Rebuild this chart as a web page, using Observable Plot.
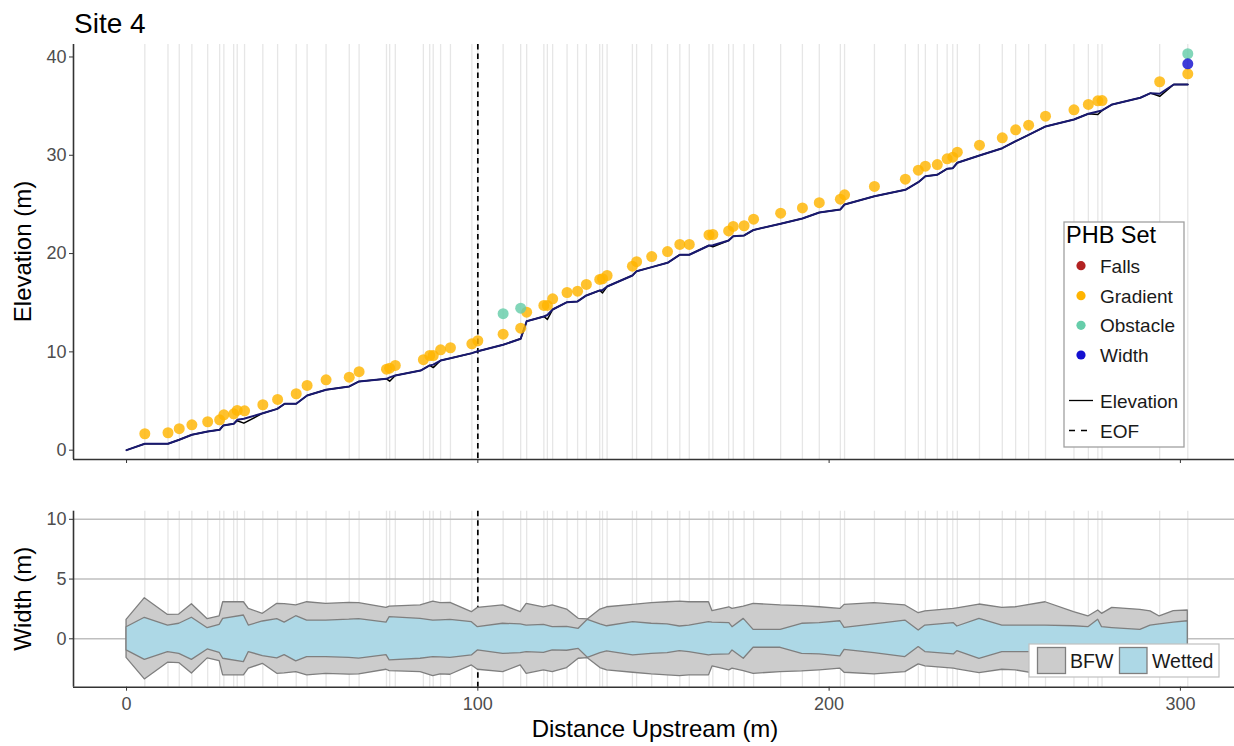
<!DOCTYPE html>
<html><head><meta charset="utf-8">
<script src="https://cdn.jsdelivr.net/npm/d3@7"></script>
<script src="https://cdn.jsdelivr.net/npm/@observablehq/plot@0.6"></script>
<style>
body{margin:0;background:#fff;overflow:hidden;}
#wrap{position:relative;width:1234px;height:746px;font-family:"Liberation Sans",Arial,sans-serif;}
#wrap svg{position:absolute;left:0;}
</style></head><body><div id="wrap"></div>
<script>
// ---------- data ----------
const titleText = "Site 4";
const eofDist = 100;
const xTicks = [0, 100, 200, 300];
const elevTicks = [0, 10, 20, 30, 40];
const widthTicks = [0, 5, 10];

const elevDist = [0, 5.2, 11.8, 15.0, 18.6, 23.1, 26.5, 27.5, 30.5, 31.5, 33.4, 38.8, 42.9, 45.0, 48.3, 51.4, 56.8, 63.4, 66.2, 74.0, 74.9, 76.5, 83.7, 86.3, 87.3, 89.4, 92.2, 98.3, 100.0, 107.2, 112.2, 113.9, 118.8, 119.8, 121.3, 125.4, 128.4, 130.9, 134.7, 135.5, 136.8, 144.0, 145.2, 149.5, 154.0, 157.5, 160.2, 165.8, 166.9, 171.4, 172.7, 175.8, 178.5, 186.2, 192.4, 197.2, 203.2, 204.4, 212.9, 221.7, 225.4, 227.4, 230.8, 233.6, 235.2, 236.5, 242.8, 249.3, 253.1, 256.8, 261.6, 269.7, 273.8, 276.5, 277.7, 280.6, 288.6, 291.5, 294.1, 298.1, 302.1];
const elevNavy = [0, 0.65, 0.65, 1.06, 1.57, 1.9, 2.07, 2.5, 2.68, 3.09, 3.2, 3.76, 4.2, 4.72, 4.72, 5.56, 6.14, 6.48, 6.99, 7.26, 7.4, 7.6, 8.1, 8.62, 8.7, 9.12, 9.36, 9.87, 10.07, 10.72, 11.33, 13.12, 13.6, 13.75, 14.31, 15.06, 15.13, 15.74, 16.25, 16.3, 16.65, 17.77, 18.21, 18.62, 19.06, 19.88, 19.88, 20.82, 20.85, 21.33, 21.77, 21.84, 22.4, 23.03, 23.57, 24.18, 24.49, 24.99, 25.84, 26.49, 27.26, 27.87, 28.02, 28.63, 28.69, 29.24, 29.98, 30.72, 31.43, 32.08, 32.93, 33.64, 34.22, 34.46, 34.56, 35.17, 35.85, 36.32, 36.26, 37.2, 37.2];
const elevRaw = [0, 0.65, 0.65, 1.06, 1.57, 1.9, 2.07, 2.5, 2.68, 3.0, 2.75, 3.76, 4.2, 4.72, 4.72, 5.56, 6.14, 6.48, 6.99, 7.26, 7.02, 7.6, 8.1, 8.62, 8.4, 9.12, 9.36, 9.87, 10.07, 10.72, 11.33, 13.12, 13.6, 13.3, 14.31, 15.06, 15.13, 15.74, 16.25, 16.0, 16.65, 17.77, 18.21, 18.62, 19.06, 19.88, 19.88, 20.82, 20.7, 21.33, 21.77, 21.84, 22.4, 23.03, 23.57, 24.18, 24.49, 24.99, 25.84, 26.49, 27.26, 27.87, 28.02, 28.63, 28.69, 29.24, 29.98, 30.72, 31.43, 32.08, 32.93, 33.64, 34.22, 34.15, 34.56, 35.17, 35.85, 36.32, 36.0, 37.2, 37.2];

const phbDist = [5.2, 11.8, 15.0, 18.6, 23.1, 26.5, 27.7, 30.5, 31.5, 33.6, 38.8, 43.0, 48.3, 51.4, 56.8, 63.4, 66.2, 74.0, 74.9, 76.5, 84.5, 86.3, 87.3, 89.4, 92.2, 98.3, 100.0, 107.2, 112.2, 113.9, 118.8, 119.8, 121.3, 125.4, 128.4, 130.9, 134.7, 135.5, 136.8, 144.0, 145.2, 149.5, 154.0, 157.5, 160.2, 165.8, 166.9, 171.4, 172.7, 175.8, 178.5, 186.2, 192.4, 197.2, 203.2, 204.4, 212.9, 221.7, 225.4, 227.4, 230.8, 233.6, 235.2, 236.5, 242.8, 249.3, 253.1, 256.8, 261.6, 269.7, 273.8, 276.5, 277.7, 294.1, 302.1, 107.2, 112.2, 302.1, 302.1];
const phbElev = [1.67, 1.77, 2.18, 2.58, 2.89, 3.09, 3.6, 3.7, 4.04, 4.0, 4.62, 5.16, 5.74, 6.58, 7.16, 7.43, 7.98, 8.24, 8.34, 8.62, 9.2, 9.63, 9.63, 10.21, 10.42, 10.82, 11.13, 11.8, 12.41, 14.04, 14.72, 14.72, 15.4, 16.04, 16.17, 16.86, 17.37, 17.44, 17.77, 18.72, 19.17, 19.7, 20.2, 20.93, 20.93, 21.9, 21.94, 22.3, 22.76, 22.83, 23.5, 24.11, 24.64, 25.18, 25.53, 25.98, 26.83, 27.57, 28.48, 28.89, 29.06, 29.64, 29.81, 30.32, 31.03, 31.78, 32.59, 33.06, 33.98, 34.63, 35.17, 35.54, 35.57, 37.48, 38.29, 13.88, 14.45, 40.33, 39.31];
const phbSet = [...Array(75).fill("Gradient"), "Obstacle", "Obstacle", "Obstacle", "Width"];

const setNames = ["Falls", "Gradient", "Obstacle", "Width"];
const setColors = ["#b22222", "#ffb400", "#66cdaa", "#1410d0"];

const widthDist = [0, 5.2, 11.8, 15.0, 18.6, 23.1, 26.5, 27.5, 33.4, 34.8, 38.8, 42.9, 45.0, 48.3, 51.4, 56.8, 63.4, 66.2, 74.0, 74.9, 83.7, 87.3, 89.4, 92.2, 98.3, 100.0, 107.2, 112.2, 113.9, 118.8, 121.3, 125.4, 128.7, 131.3, 134.9, 136.8, 144.2, 149.5, 154.0, 157.5, 160.2, 165.8, 166.8, 171.6, 172.5, 175.7, 178.5, 186.2, 192.3, 197.3, 203.2, 204.4, 212.9, 221.7, 225.5, 227.4, 235.5, 236.5, 242.8, 249.3, 253.1, 261.6, 269.7, 273.8, 276.6, 277.7, 280.6, 288.6, 291.5, 294.1, 298.1, 302.1];
const bfwWidth = [3.18, 6.8, 4.0, 4.06, 5.8, 3.28, 3.74, 6.12, 6.12, 5.0, 4.18, 5.86, 5.8, 5.58, 6.12, 5.86, 6.0, 5.96, 5.18, 5.4, 5.58, 6.24, 5.96, 6.02, 4.46, 5.18, 5.58, 4.46, 5.86, 5.28, 5.58, 4.9, 3.34, 3.24, 4.9, 5.28, 5.68, 5.96, 6.12, 6.24, 6.12, 6.12, 4.62, 5.28, 5.0, 5.4, 5.86, 5.58, 5.46, 5.28, 5.0, 5.68, 5.96, 5.58, 4.28, 4.6, 5.0, 5.1, 5.74, 5.18, 5.28, 6.12, 4.46, 3.74, 4.74, 4.18, 5.18, 4.86, 4.6, 3.74, 4.62, 4.74];
const wettedWidth = [1.94, 3.52, 2.22, 2.52, 3.52, 1.78, 2.34, 3.34, 3.9, 2.22, 2.9, 3.28, 2.72, 3.78, 3.06, 3.06, 3.2, 3.3, 2.72, 3.62, 3.34, 3.06, 3.1, 3.18, 2.78, 1.94, 2.52, 2.4, 2.22, 2.34, 1.94, 2.0, 1.68, 3.18, 2.4, 2.1, 2.78, 2.52, 2.4, 2.06, 2.22, 2.78, 2.7, 2.62, 1.94, 3.34, 1.5, 1.5, 2.52, 2.62, 2.94, 1.84, 2.4, 3.06, 1.38, 2.22, 2.62, 2.06, 3.34, 2.22, 2.22, 2.22, 2.1, 1.94, 3.18, 1.94, 1.8, 1.5, 2.22, 2.4, 2.7, 2.94];

// ---------- build tables ----------
const elevRows = elevDist.map((d, i) => ({d, navy: elevNavy[i], raw: elevRaw[i]}));
const phbRows = phbDist.map((d, i) => ({d, e: phbElev[i], set: phbSet[i]}));
const widthRows = widthDist.map((d, i) => ({d, bfw: bfwWidth[i], wet: wettedWidth[i]}));
const vlines = Array.from(new Set(phbDist));

const FONT = '"Liberation Sans", Arial, sans-serif';
const xDomain = [-15.1, 315.4];
const yTop = [-0.95, 41.27];
const yBot = [-4.05, 10.68];
const baseStyle = {background: "transparent", fontFamily: FONT, fontSize: "18px", overflow: "visible"};
const vStroke = "#e6e6e6";
const axisCol = "#333333";

const topPlot = Plot.plot({
  width: 1234, height: 470,
  marginTop: 44, marginBottom: 11, marginLeft: 73, marginRight: 0,
  x: {domain: xDomain}, y: {domain: yTop},
  color: {domain: setNames, range: setColors},
  style: baseStyle,
  marks: [
    Plot.ruleX(vlines, {stroke: vStroke, strokeWidth: 1.3}),
    Plot.ruleX([eofDist], {stroke: "black", strokeWidth: 1.7, strokeDasharray: "5.5,4"}),
    Plot.line(elevRows, {x: "d", y: "raw", stroke: "black", strokeWidth: 1.5}),
    Plot.line(elevRows, {x: "d", y: "navy", stroke: "#191970", strokeWidth: 2}),
    Plot.dot(phbRows, {x: "d", y: "e", fill: "set", r: 5.5, fillOpacity: 0.82, stroke: null}),
    Plot.ruleX([xDomain[0]], {stroke: axisCol, strokeWidth: 1.6}),
    Plot.ruleY([yTop[0]], {stroke: axisCol, strokeWidth: 1.6}),
    Plot.axisY(elevTicks, {tickSize: 4, tickPadding: 3, fill: "#4d4d4d", stroke: axisCol, fontSize: 18, label: null}),
    Plot.axisX(xTicks, {tickSize: 4, tickFormat: () => "", stroke: axisCol, label: null})
  ]
});

const botPlot = Plot.plot({
  width: 1234, height: 256,
  marginTop: 20.7, marginBottom: 59.3, marginLeft: 73, marginRight: 0,
  x: {domain: xDomain}, y: {domain: yBot},
  style: baseStyle,
  marks: [
    Plot.ruleX(vlines, {stroke: vStroke, strokeWidth: 1.3}),
    Plot.ruleY(widthTicks, {stroke: "#bfbfbf", strokeWidth: 1.6}),
    Plot.ruleX([eofDist], {stroke: "black", strokeWidth: 1.7, strokeDasharray: "5.5,4"}),
    Plot.areaY(widthRows, {x: "d", y1: r => -r.bfw / 2, y2: r => r.bfw / 2, fill: "#cccccc", stroke: "#7f7f7f", strokeWidth: 1.3}),
    Plot.areaY(widthRows, {x: "d", y1: r => -r.wet / 2, y2: r => r.wet / 2, fill: "#add8e6", stroke: "#7f7f7f", strokeWidth: 1.3}),
    Plot.ruleX([xDomain[0]], {stroke: axisCol, strokeWidth: 1.6}),
    Plot.ruleY([yBot[0]], {stroke: axisCol, strokeWidth: 1.6}),
    Plot.axisY(widthTicks, {tickSize: 4, tickPadding: 3, fill: "#4d4d4d", stroke: axisCol, fontSize: 18, label: null}),
    Plot.axisX(xTicks, {tickSize: 4, tickPadding: 6, fill: "#4d4d4d", stroke: axisCol, fontSize: 18, label: null})
  ]
});

const wrap = document.getElementById("wrap");
topPlot.style.top = "0px";
botPlot.style.top = "490px";
wrap.appendChild(topPlot);
wrap.appendChild(botPlot);

// ---------- overlay: title, axis titles, legends ----------
const ov = d3.create("svg").attr("width", 1234).attr("height", 746)
  .style("top", "0px").style("pointer-events", "none")
  .attr("font-family", FONT);

ov.append("text").attr("x", 74).attr("y", 32.5).attr("font-size", 28).attr("fill", "black").text(titleText);

ov.append("text").attr("transform", "translate(31,251.5) rotate(-90)").attr("text-anchor", "middle")
  .attr("font-size", 24).attr("fill", "black").text("Elevation (m)");
ov.append("text").attr("transform", "translate(31,598.7) rotate(-90)").attr("text-anchor", "middle")
  .attr("font-size", 24).attr("fill", "black").text("Width (m)");
ov.append("text").attr("x", 655).attr("y", 737).attr("text-anchor", "middle")
  .attr("font-size", 24).attr("fill", "black").text("Distance Upstream (m)");

// PHB legend
const lg = ov.append("g");
lg.append("rect").attr("x", 1064).attr("y", 222).attr("width", 120).attr("height", 225)
  .attr("fill", "white").attr("stroke", "#a0a0a0").attr("stroke-width", 1.3);
lg.append("text").attr("x", 1066).attr("y", 242.5).attr("font-size", 23.5).attr("fill", "black").text("PHB Set");
const itemY = [265.7, 295.7, 325.3, 355];
setNames.forEach((n, i) => {
  lg.append("circle").attr("cx", 1081).attr("cy", itemY[i]).attr("r", 4.6).attr("fill", setColors[i]);
  lg.append("text").attr("x", 1100).attr("y", itemY[i] + 6.8).attr("font-size", 19).attr("fill", "#1a1a1a").text(n);
});
lg.append("line").attr("x1", 1069).attr("x2", 1093).attr("y1", 400.5).attr("y2", 400.5).attr("stroke", "black").attr("stroke-width", 1.3);
lg.append("text").attr("x", 1100).attr("y", 407.5).attr("font-size", 19).attr("fill", "#1a1a1a").text("Elevation");
lg.append("line").attr("x1", 1069).attr("x2", 1093).attr("y1", 430.5).attr("y2", 430.5).attr("stroke", "black").attr("stroke-width", 1.3).attr("stroke-dasharray", "6,6");
lg.append("text").attr("x", 1100).attr("y", 437.5).attr("font-size", 19).attr("fill", "#1a1a1a").text("EOF");

// Width legend
const lw = ov.append("g");
lw.append("rect").attr("x", 1029).attr("y", 644).attr("width", 190).attr("height", 33)
  .attr("fill", "white").attr("stroke", "#c0c0c0").attr("stroke-width", 1.2);
lw.append("rect").attr("x", 1037.5).attr("y", 647.5).attr("width", 28).attr("height", 26)
  .attr("fill", "#cccccc").attr("stroke", "#7f7f7f").attr("stroke-width", 1.3);
lw.append("text").attr("x", 1070).attr("y", 667.5).attr("font-size", 19.5).attr("fill", "#1a1a1a").text("BFW");
lw.append("rect").attr("x", 1119.5).attr("y", 647.5).attr("width", 27.5).attr("height", 26)
  .attr("fill", "#add8e6").attr("stroke", "#7f7f7f").attr("stroke-width", 1.3);
lw.append("text").attr("x", 1152).attr("y", 667.5).attr("font-size", 19.5).attr("fill", "#1a1a1a").text("Wetted");

wrap.appendChild(ov.node());
</script>
</body></html>
